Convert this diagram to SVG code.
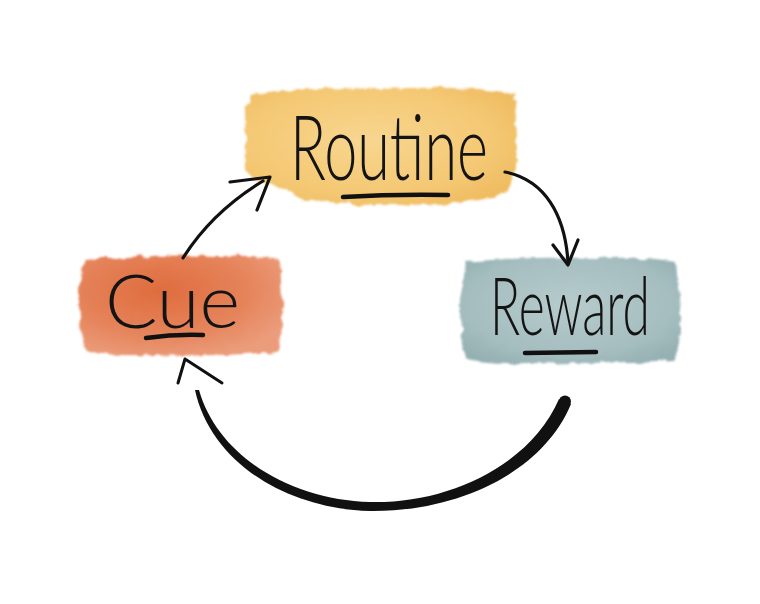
<svg xmlns="http://www.w3.org/2000/svg" width="760" height="604" viewBox="0 0 760 604">
<style>
.lbl{font-family:"Lato","Open Sans","Liberation Sans",sans-serif;font-weight:300;fill:#141414;}
.ink{fill:none;stroke:#111;stroke-linecap:round;stroke-linejoin:round;}
.thin{stroke-width:3.2;}
.ul{stroke-width:4.5;}
.box{filter:url(#wc);}
</style>
<defs>
<filter id="wc" x="-10%" y="-15%" width="120%" height="130%">
<feTurbulence type="fractalNoise" baseFrequency="0.09" numOctaves="3" seed="4" result="n"/>
<feDisplacementMap in="SourceGraphic" in2="n" scale="7" xChannelSelector="R" yChannelSelector="G" result="d"/>
<feGaussianBlur in="d" stdDeviation="0.9"/>
</filter>
<radialGradient id="gy" cx="0.45" cy="0.45" r="0.65">
<stop offset="0" stop-color="#f8d690"/>
<stop offset="0.7" stop-color="#f4c873"/>
<stop offset="1" stop-color="#efbb60"/>
</radialGradient>
<radialGradient id="go" cx="0.4" cy="0.35" r="0.7">
<stop offset="0" stop-color="#df6c3d"/>
<stop offset="0.6" stop-color="#e5835a"/>
<stop offset="1" stop-color="#eb9c7a"/>
</radialGradient>
<radialGradient id="gb" cx="0.5" cy="0.45" r="0.65">
<stop offset="0" stop-color="#b6cbcc"/>
<stop offset="0.7" stop-color="#a6bec0"/>
<stop offset="1" stop-color="#95b0b2"/>
</radialGradient>
</defs>
<rect width="760" height="604" fill="#ffffff"/>

<g id="routine">
<path class="box" fill="url(#gy)" d="M250,96 Q300,86 380,89 Q460,85 513,93 L517,150 Q515,178 506,194 Q470,204 410,205 Q340,206 300,198 Q282,186 262,182 Q247,180 246,168 L245,110 Z"/>
<text class="lbl" transform="translate(290,180) scale(1,1.45)" font-size="62" textLength="198" lengthAdjust="spacingAndGlyphs">Routine</text>
<path class="ink ul" d="M343,197 Q395,194 448,195"/>
</g>

<g id="cue">
<path class="box" fill="url(#go)" d="M84,260 Q150,254 220,256 Q260,255 280,259 L282,300 Q283,335 278,352 Q200,357 140,355 Q100,356 86,350 Q78,320 79,290 Z"/>
<text class="lbl" transform="translate(105,328) scale(1,1.35)" font-size="55" textLength="135" lengthAdjust="spacingAndGlyphs">Cue</text>
<path class="ink ul" d="M146,338 Q175,334 203,335"/>
</g>

<g id="reward">
<path class="box" fill="url(#gb)" d="M466,262 Q530,256 600,258 Q655,257 676,262 L680,310 Q681,345 675,360 Q600,364 530,363 Q480,364 466,358 Q459,330 460,300 Z"/>
<text class="lbl" transform="translate(490,335) scale(1,1.4)" font-size="58" textLength="160" lengthAdjust="spacingAndGlyphs">Reward</text>
<path class="ink ul" d="M525,353 L596,352"/>
</g>

<g id="connectors">
<path class="ink thin" d="M183,258 Q212,212 263,181"/>
<polyline class="ink thin" points="230,182 270,177 257,210"/>
<path class="ink thin" d="M505,172 C545,180 565,215 568,262"/>
<polyline class="ink thin" points="553,245 568,265 578,240"/>
<path fill="#111" d="M571,404 C541,476 452,512 370,511 C287,509 211,463 195,390 L199,390 C218,457 292,500 370,502 C447,504 530,466 559,399 Z"/>
<circle cx="565" cy="401.5" r="6" fill="#111"/>
<polyline class="ink" stroke-width="3" points="178,383 185,359 222,383"/>
</g>
</svg>
